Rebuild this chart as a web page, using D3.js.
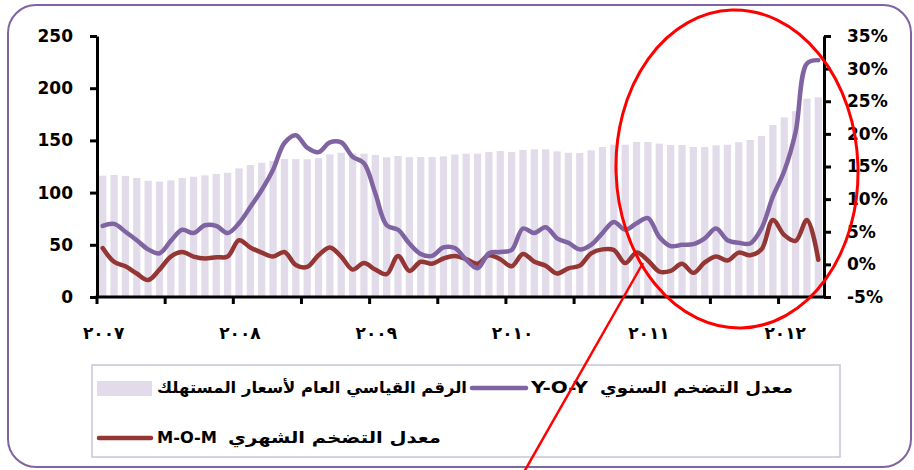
<!DOCTYPE html>
<html>
<head>
<meta charset="utf-8">
<script src="https://d3js.org/d3.v7.min.js"></script>
<style>
  body { margin: 0; background: #fff; }
  text { font-family: "DejaVu Sans", sans-serif; font-weight: bold; fill: #000; }
</style>
</head>
<body>
<svg id="chart" width="914" height="470"></svg>
<script>
// monthly data Jan 2007 .. Apr 2012
var months = d3.timeMonth.range(new Date(2007, 0, 1), new Date(2012, 4, 1));

// consumer price index (left axis)
var cpi = [116.2, 116.9, 116, 114, 111.4, 110.5, 111.7, 114, 115.2, 116.5, 117.8, 119,
  123.2, 126.4, 128.6, 130.3, 132.2, 132, 132, 133, 136.6, 138.2, 137.6, 137.3,
  136, 133.8, 135, 134, 134, 134, 134.7, 136.5, 137.3, 137.3, 138.9, 139.8,
  138.9, 140.8, 141.5, 141.5, 139.5, 138.2, 137.9, 140.5, 143.7, 145.9, 145.9, 148.5,
  148.5, 146.9, 145.6, 145.6, 143.7, 143.7, 145.3, 145.9, 148.2, 150.4, 154.2, 164.8,
  172, 178, 190, 191.3];

// year over year inflation, % (right axis)
var yoy = [5.9, 6.2, 5.0, 3.7, 2.3, 1.7, 3.6, 5.3, 4.8, 6.0, 5.9, 4.8,
  6.3, 8.8, 11.4, 14.5, 18.6, 19.8, 17.9, 17.2, 18.7, 18.7, 16.5, 15.5,
  10.9, 6.0, 5.3, 3.2, 1.6, 1.3, 2.6, 2.5, 0.7, -0.6, 1.7, 1.9,
  2.2, 5.5, 4.8, 5.7, 4.0, 3.3, 2.3, 3.0, 4.8, 6.5, 5.3, 6.3,
  7.1, 4.2, 2.8, 3.0, 3.1, 4.0, 5.5, 3.7, 3.3, 3.2, 5.5, 10.4,
  14.3, 20.3, 30.8, 31.3];

// month over month inflation, % (right axis)
var mom = [2.5, 0.4, -0.3, -1.4, -2.4, -0.8, 1.2, 1.9, 1.2, 0.9, 1.1, 1.2,
  3.7, 2.6, 1.8, 1.2, 1.9, -0.1, -0.4, 1.4, 2.6, 1.2, -0.8, 0.2,
  -0.8, -1.5, 1.3, -1.0, 0.4, 0.1, 0.9, 1.3, 0.8, 0.1, 1.4, 0.8,
  -0.3, 1.6, 0.4, -0.2, -1.4, -0.6, -0.2, 1.7, 2.3, 2.2, 0.2, 1.8,
  0.6, -1.1, -1.0, 0.1, -1.3, 0.3, 1.2, 0.6, 1.8, 1.4, 2.3, 6.8,
  4.5, 3.6, 6.8, 0.7];

var leftTicks = [0, 50, 100, 150, 200, 250];
var rightTicks = [-5, 0, 5, 10, 15, 20, 25, 30, 35];
var yearLabels = ["٢٠٠٧", "٢٠٠٨", "٢٠٠٩", "٢٠١٠", "٢٠١١", "٢٠١٢"];
var legendNames = ["الرقم القياسي العام لأسعار المستهلك", "معدل التضخم السنوي", "معدل التضخم الشهري"];

var colBar = "#e2dcea", colYoy = "#8064a2", colMom = "#943634";

var svg = d3.select("#chart");

// outer frame
svg.append("rect").attr("x", 8).attr("y", 5).attr("width", 903).attr("height", 462)
  .attr("rx", 28).attr("fill", "#fff").attr("stroke", "#8064a2").attr("stroke-width", 2);

var x0 = 97, x1 = 824, yTop = 36, yBot = 297;

var x = d3.scaleBand().domain(d3.range(months.length)).range([x0, x1]).paddingInner(0.36).paddingOuter(0.18);
var xc = function(i){ return x(i) + x.bandwidth() / 2; };
var yL = d3.scaleLinear().domain([0, 250]).range([yBot, yTop]);
var yR = d3.scaleLinear().domain([-5, 35]).range([yBot, yTop]);

// bars
svg.append("g").selectAll("rect").data(cpi).enter().append("rect")
  .attr("x", function(d, i){ return x(i); })
  .attr("y", function(d){ return yL(d); })
  .attr("width", x.bandwidth())
  .attr("height", function(d){ return yBot - yL(d); })
  .attr("fill", colBar);

// lines
var line = d3.line()
  .x(function(d, i){ return xc(i); })
  .y(function(d){ return yR(d); })
  .curve(d3.curveCatmullRom.alpha(0.5));

svg.append("path").datum(mom).attr("d", line).attr("fill", "none")
  .attr("stroke", colMom).attr("stroke-width", 4.5).attr("stroke-linejoin", "round").attr("stroke-linecap", "round");
svg.append("path").datum(yoy).attr("d", line).attr("fill", "none")
  .attr("stroke", colYoy).attr("stroke-width", 4.5).attr("stroke-linejoin", "round").attr("stroke-linecap", "round");

// axes
var axL = svg.append("g").attr("transform", "translate(" + x0 + ",0)")
  .call(d3.axisLeft(yL).tickValues(leftTicks).tickSize(7).tickSizeOuter(0).tickPadding(17));
var axR = svg.append("g").attr("transform", "translate(" + x1 + ",0)")
  .call(d3.axisRight(yR).tickValues(rightTicks).tickSize(7).tickSizeOuter(0).tickPadding(16)
    .tickFormat(function(d){ return d + "%"; }));
[axL, axR].forEach(function(a){
  a.select(".domain").attr("stroke", "#000").attr("stroke-width", 3);
  a.selectAll(".tick line").attr("stroke", "#000").attr("stroke-width", 3);
  a.selectAll(".tick text").style("font-size", "17px").style("font-family", "DejaVu Sans")
    .style("font-weight", "bold").attr("fill", "#000");
});

// x axis: ticks every 6 months at the band edges
var step = x.step();
var tickIdx = d3.range(0, months.length, 6);
svg.append("line").attr("x1", x0 - 1.5).attr("x2", x1 + 1.5).attr("y1", yBot).attr("y2", yBot)
  .attr("stroke", "#000").attr("stroke-width", 3);
svg.append("g").selectAll("line").data(tickIdx).enter().append("line")
  .attr("x1", function(i){ return x0 + i * step; })
  .attr("x2", function(i){ return x0 + i * step; })
  .attr("y1", yBot).attr("y2", yBot + 7)
  .attr("stroke", "#000").attr("stroke-width", 3);
svg.append("g").selectAll("text").data(yearLabels).enter().append("text")
  .attr("x", function(d, i){ return xc(i * 12) + 1; })
  .attr("y", 333)
  .attr("text-anchor", "middle").attr("dominant-baseline", "central")
  .style("font-size", "17px")
  .text(function(d){ return d; });

// legend
var lg = svg.append("g");
lg.append("rect").attr("x", 92).attr("y", 365).attr("width", 748).attr("height", 92)
  .attr("fill", "#fff").attr("stroke", "#ccc1da").attr("stroke-width", 1.5);
lg.append("rect").attr("x", 97).attr("y", 381).attr("width", 55).attr("height", 15).attr("fill", colBar);
lg.append("line").attr("x1", 472).attr("x2", 526).attr("y1", 388).attr("y2", 388)
  .attr("stroke", colYoy).attr("stroke-width", 4.5).attr("stroke-linecap", "round");
lg.append("line").attr("x1", 99).attr("x2", 151).attr("y1", 438).attr("y2", 438)
  .attr("stroke", colMom).attr("stroke-width", 4.5).attr("stroke-linecap", "round");

function legText(t, xe, y, w){
  lg.append("text").attr("x", xe).attr("y", y).attr("text-anchor", "end")
    .attr("dominant-baseline", "central").style("font-size", "16px")
    .attr("textLength", w).attr("lengthAdjust", "spacingAndGlyphs").text(t);
}
legText(legendNames[0], 467, 387, 310);
legText("Y-O-Y", 588, 387, 57);
legText(legendNames[1], 793, 387, 193);
legText("M-O-M", 217, 437, 60);
legText(legendNames[2], 441, 437, 213);

// red hand-drawn annotation
svg.append("ellipse").attr("cx", 737).attr("cy", 169).attr("rx", 121).attr("ry", 159)
  .attr("transform", "rotate(-1.8,737,169)")
  .attr("fill", "none").attr("stroke", "#ff0000").attr("stroke-width", 3);
svg.append("line").attr("x1", 643).attr("y1", 263).attr("x2", 524).attr("y2", 472)
  .attr("stroke", "#ff0000").attr("stroke-width", 2.5);
</script>
</body>
</html>
